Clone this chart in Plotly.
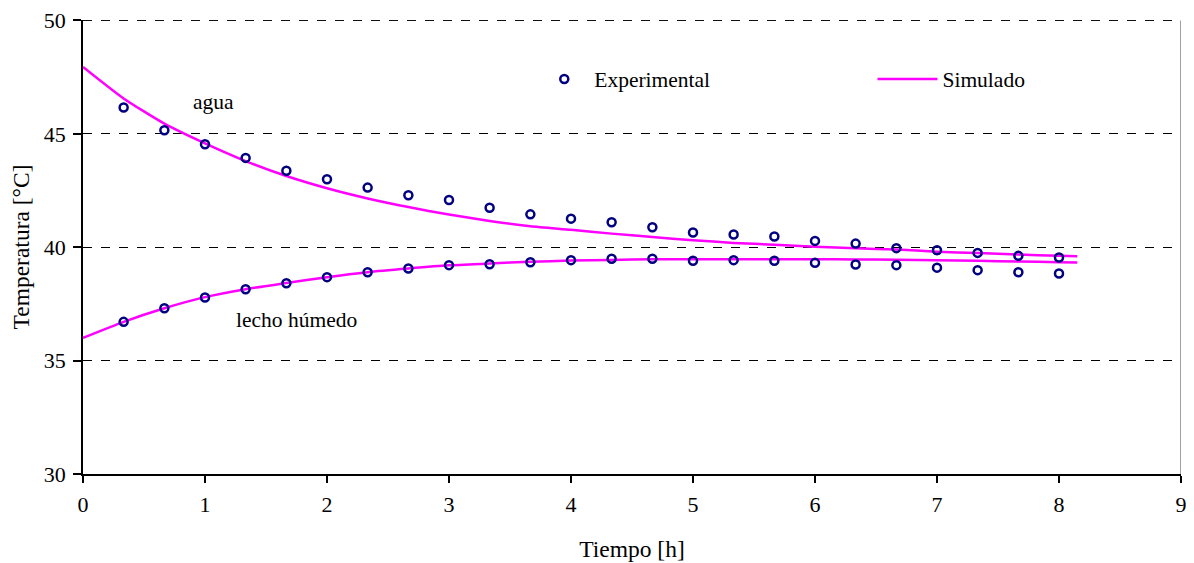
import plotly.graph_objects as go

# Experimental data (time in h)
t_exp = [0.333, 0.667, 1.0, 1.333, 1.667, 2.0, 2.333, 2.667, 3.0, 3.333, 3.667, 4.0,
         4.333, 4.667, 5.0, 5.333, 5.667, 6.0, 6.333, 6.667, 7.0, 7.333, 7.667, 8.0]
agua_exp = [46.16, 45.16, 44.54, 43.94, 43.37, 43.0, 42.63, 42.29, 42.08, 41.74, 41.45, 41.26,
            41.1, 40.88, 40.65, 40.56, 40.47, 40.28, 40.16, 39.96, 39.87, 39.75, 39.62, 39.55]
lecho_exp = [36.71, 37.31, 37.78, 38.15, 38.41, 38.68, 38.9, 39.06, 39.21, 39.25, 39.34, 39.43,
             39.49, 39.49, 39.4, 39.43, 39.4, 39.31, 39.24, 39.21, 39.1, 38.99, 38.9, 38.84]

# Simulated curves
t_sim = [0.0, 0.333, 0.667, 1.0, 1.333, 1.667, 2.0, 2.333, 2.667, 3.0, 3.333, 3.667, 4.0,
         4.333, 4.667, 5.0, 5.333, 5.667, 6.0, 6.333, 6.667, 7.0, 7.333, 7.667, 8.0, 8.15]
agua_sim = [47.95, 46.56, 45.45, 44.58, 43.8, 43.14, 42.6, 42.15, 41.77, 41.44, 41.16, 40.93, 40.77,
            40.6, 40.45, 40.31, 40.19, 40.11, 40.02, 39.95, 39.9, 39.8, 39.74, 39.68, 39.62, 39.6]
lecho_sim = [36.0, 36.71, 37.31, 37.8, 38.15, 38.42, 38.68, 38.9, 39.06, 39.2, 39.28, 39.36, 39.41,
             39.44, 39.47, 39.47, 39.47, 39.47, 39.47, 39.46, 39.45, 39.43, 39.4, 39.37, 39.34, 39.33]

y_ticks = [30, 35, 40, 45, 50]

FONT = "Liberation Serif"
MAGENTA = "#FF00FF"
NAVY = "#000080"

fig = go.Figure()

fig.add_trace(go.Scatter(x=t_sim, y=agua_sim, mode="lines", name="Simulado",
                         line=dict(color=MAGENTA, width=2.5, shape="spline", smoothing=0.6),
                         legend="legend2"))
fig.add_trace(go.Scatter(x=t_sim, y=lecho_sim, mode="lines", name="Simulado",
                         line=dict(color=MAGENTA, width=2.5, shape="spline", smoothing=0.6),
                         showlegend=False))
fig.add_trace(go.Scatter(x=t_exp, y=agua_exp, mode="markers", name="Experimental",
                         marker=dict(symbol="circle-open", size=8, color=NAVY,
                                     line=dict(width=2.5, color=NAVY)), legend="legend"))
fig.add_trace(go.Scatter(x=t_exp, y=lecho_exp, mode="markers", name="Experimental",
                         marker=dict(symbol="circle-open", size=8, color=NAVY,
                                     line=dict(width=2.5, color=NAVY)), showlegend=False))

fig.add_annotation(x=1.07, y=46.4, text="agua", showarrow=False,
                   font=dict(family=FONT, size=21.5, color="black"))
fig.add_annotation(x=1.75, y=36.78, text="lecho húmedo", showarrow=False,
                   font=dict(family=FONT, size=21.5, color="black"))

# right border of plot area and top dashed gridline
fig.add_shape(type="line", xref="x", yref="y", x0=9, x1=9, y0=30, y1=50,
              line=dict(color="#808080", width=1.5))
fig.add_shape(type="line", xref="x", yref="y", x0=0, x1=9, y0=50, y1=50,
              line=dict(color="black", width=1, dash="dash"), layer="below")

fig.update_layout(
    width=1186, height=555,
    margin=dict(l=75, r=13, t=12, b=89),
    paper_bgcolor="white", plot_bgcolor="white",
    font=dict(family=FONT, size=22, color="black"),
    legend=dict(x=0.411, y=0.87, xanchor="left", yanchor="middle", itemwidth=50,
                bgcolor="rgba(0,0,0,0)", font=dict(family=FONT, size=21.5)),
    legend2=dict(x=0.719, y=0.87, xanchor="left", yanchor="middle", itemwidth=60,
                 bgcolor="rgba(0,0,0,0)", font=dict(family=FONT, size=21.5)),
    xaxis=dict(range=[0, 9], dtick=1, showgrid=False, zeroline=False, automargin=False,
               showline=True, linecolor="black", linewidth=1.5,
               ticks="outside", ticklen=7, tickcolor="black", tickwidth=1.5,
               ticklabelstandoff=3,
               tickfont=dict(family=FONT, size=22),
               title=dict(text="Tiempo [h]", standoff=24,
                          font=dict(family=FONT, size=23.5))),
    yaxis=dict(range=[30, 50.02], tickmode="array", tickvals=y_ticks,
               showgrid=True, gridcolor="black",
               griddash="dash", gridwidth=1, zeroline=False, automargin=False,
               showline=True, linecolor="black", linewidth=1.5,
               ticks="outside", ticklen=8, tickcolor="black", tickwidth=1.5,
               ticklabelstandoff=3,
               tickfont=dict(family=FONT, size=22),
               title=dict(text="Temperatura [°C]", standoff=14,
                          font=dict(family=FONT, size=23.5))),
)

fig.write_html("out.html")
